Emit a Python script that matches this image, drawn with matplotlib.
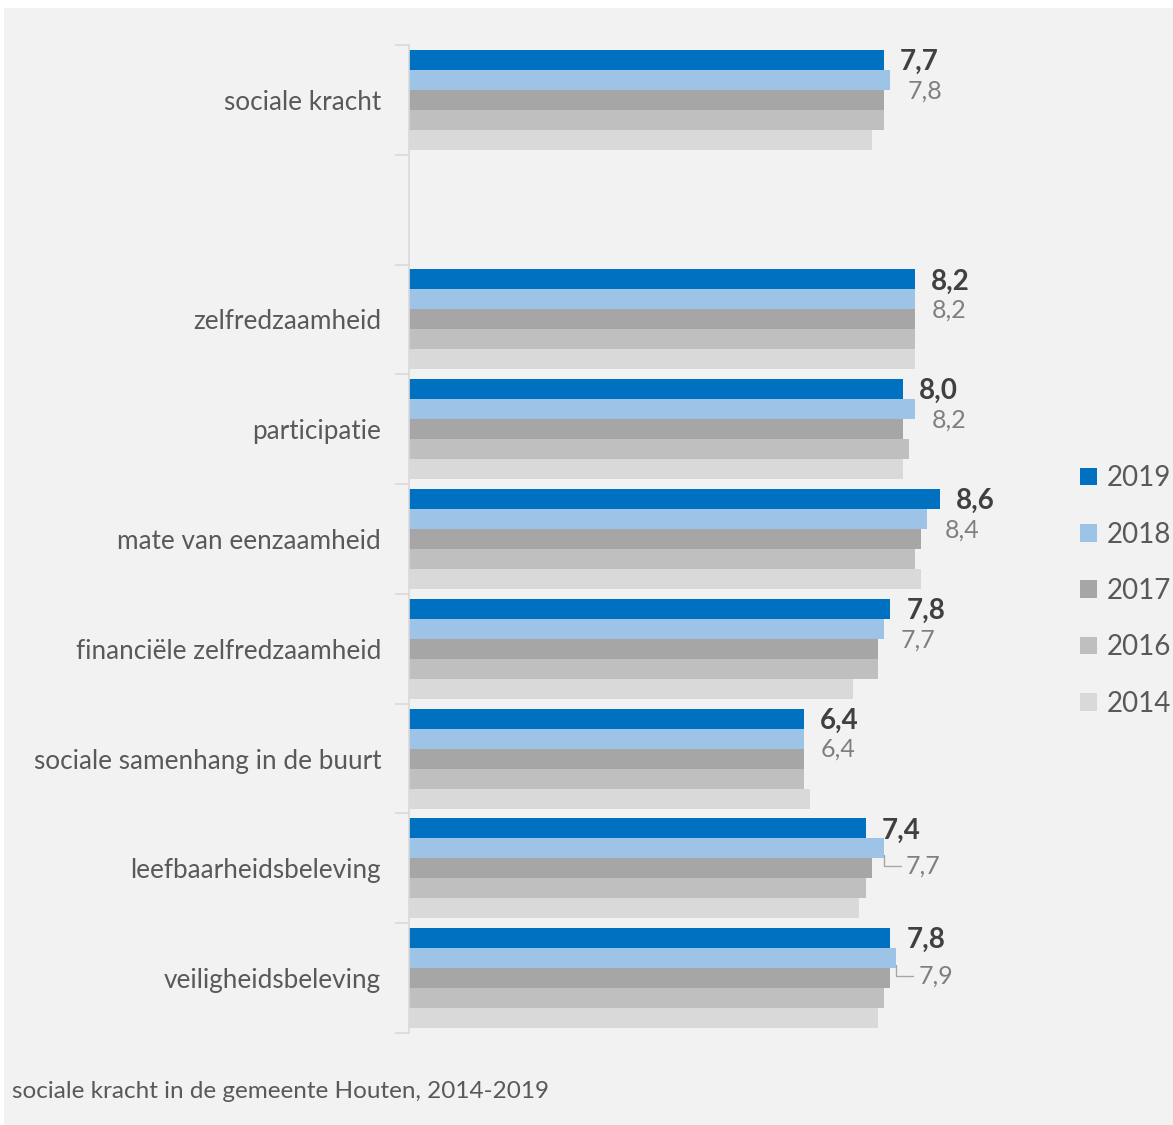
import matplotlib.pyplot as plt
from matplotlib.patches import Patch, Rectangle

plt.rcParams['font.family'] = ['Lato', 'DejaVu Sans']

# categories top to bottom, '' is the empty slot in the chart
categories = ['sociale kracht', '', 'zelfredzaamheid', 'participatie',
              'mate van eenzaamheid', 'financiële zelfredzaamheid',
              'sociale samenhang in de buurt', 'leefbaarheidsbeleving',
              'veiligheidsbeleving']
years = ['2019', '2018', '2017', '2016', '2014']

v2019 = [7.7, None, 8.2, 8.0, 8.6, 7.8, 6.4, 7.4, 7.8]
v2018 = [7.8, None, 8.2, 8.2, 8.4, 7.7, 6.4, 7.7, 7.9]
v2017 = [7.7, None, 8.2, 8.0, 8.3, 7.6, 6.4, 7.5, 7.8]
v2016 = [7.7, None, 8.2, 8.1, 8.2, 7.6, 6.4, 7.4, 7.7]
v2014 = [7.5, None, 8.2, 8.0, 8.3, 7.2, 6.5, 7.3, 7.6]

colors = ['#0070c0', '#9dc3e6', '#a6a6a6', '#bfbfbf', '#d9d9d9']
# 2018 labels that get a small leader line
leader = [False, False, False, False, False, False, False, True, True]

bg = '#f2f2f2'
W, H = 1173, 1125
fig = plt.figure(figsize=(W / 100, H / 100), dpi=100, facecolor='white')
# grey chart area with a thin white margin top/left
fig.patches.append(Rectangle((4 / W, -0.05), 1.1, 1.05 - 8 / H,
                             transform=fig.transFigure,
                             facecolor=bg, edgecolor='none', zorder=-10))

ax = fig.add_axes([409 / W, 1 - 1033 / H, (1026 - 409) / W, 988 / H])
ax.set_facecolor(bg)

series = [v2019, v2018, v2017, v2016, v2014]
h = 0.182
for j, vals in enumerate(series):
    ys = [i - 2 * h + j * h for i, v in enumerate(vals) if v is not None]
    xs = [v for v in vals if v is not None]
    ax.barh(ys, xs, height=h, color=colors[j], edgecolor='none')

def fmt(v):
    return f'{v:.1f}'.replace('.', ',')

for i in range(len(categories)):
    if v2019[i] is None:
        continue
    y19 = i - 2 * h
    y18 = i - h
    ax.annotate(fmt(v2019[i]), (v2019[i], y19), xytext=(16, -2),
                textcoords='offset pixels', va='center', ha='left',
                fontsize=20, fontweight='bold', color='#404040')
    if leader[i]:
        ax.annotate(fmt(v2018[i]), (v2018[i], y18 + 0.06), xytext=(22, -11),
                    textcoords='offset pixels', va='center', ha='left',
                    fontsize=18, color='#7f7f7f',
                    arrowprops=dict(arrowstyle='-', color='#a6a6a6', lw=1,
                                    shrinkA=2, shrinkB=0,
                                    connectionstyle='angle,angleA=0,angleB=90,rad=0'))
    else:
        ax.annotate(fmt(v2018[i]), (v2018[i], y18), xytext=(17, -11),
                    textcoords='offset pixels', va='center', ha='left',
                    fontsize=18, color='#7f7f7f')

ax.set_xlim(0, 10)
ax.set_ylim(len(categories) - 0.5, -0.5)
ax.set_xticks([])
ax.set_yticks(range(len(categories)))
ax.set_yticklabels(categories, fontsize=18.8, color='#595959')
ax.set_yticks([i - 0.5 for i in range(len(categories) + 1)], minor=True)
ax.tick_params(axis='y', which='major', length=0, pad=20)
ax.tick_params(axis='y', which='minor', length=10, width=1.2, color='#d9d9d9')
for s in ['top', 'right', 'bottom']:
    ax.spines[s].set_visible(False)
ax.spines['left'].set_color('#d9d9d9')
ax.spines['left'].set_linewidth(1.2)

handles = [Patch(facecolor=c, edgecolor='none') for c in colors]
fig.legend(handles, years, loc='center left',
           bbox_to_anchor=(1080 / W, 1 - 591 / H), frameon=False,
           borderpad=0, borderaxespad=0,
           fontsize=20, handlelength=0.6, handleheight=0.6,
           handletextpad=0.36, labelspacing=1.09, labelcolor='#595959')

fig.text(12 / W, 1 - 1091 / H, 'sociale kracht in de gemeente Houten, 2014-2019',
         fontsize=17.5, color='#595959', va='center', ha='left')

fig.savefig('out.png', dpi=100, facecolor='white')
